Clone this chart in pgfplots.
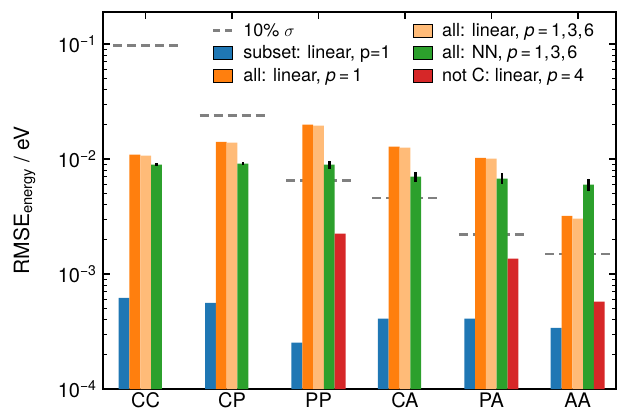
\documentclass[border=0pt]{standalone}
\usepackage{fontspec}
\setmainfont{TeX Gyre Heros}
\usepackage{pgfplots}
\pgfplotsset{compat=1.18}

\definecolor{cblue}{HTML}{1F77B4}
\definecolor{corange}{HTML}{FF7F0E}
\definecolor{clight}{HTML}{FFBB78}
\definecolor{cgreen}{HTML}{2CA02C}
\definecolor{cred}{HTML}{D62728}
\definecolor{cgray}{HTML}{808080}

\pgfplotsset{
  patch legend/.style={legend image code/.code={\fill[##1] (0pt,-6.5pt) rectangle (19pt,6.5pt);}},
  dash legend/.style={legend image code/.code={\draw[##1] (0pt,0pt) -- (19pt,0pt);}},
  sigmaline/.style={cgray, line width=2.5pt, dash pattern=on 9pt off 5pt, forget plot},
  barplot/.style={ybar, bar width=0.125, bar shift=0pt, draw=none, forget plot},
}

\begin{document}
\begin{tikzpicture}
\useasboundingbox (-103pt,-26pt) rectangle (518pt,389pt);
\begin{axis}[
  at={(0pt,0pt)}, anchor=south west,
  scale only axis, width=513pt, height=377pt,
  ymode=log, log origin=infty,
  ymin=1e-4, ymax=0.19,
  xmin=-0.494, xmax=5.443,
  xtick={0,1,2,3,4,5},
  xticklabels={CC,CP,PP,CA,PA,AA},
  ytick={1e-4,1e-3,1e-2,1e-1},
  yticklabels={10\textsuperscript{−4},10\textsuperscript{−3},10\textsuperscript{−2},10\textsuperscript{−1}},
  axis line style={line width=2.2pt},
  tick align=inside,
  major tick length=7.5pt, minor tick length=4pt,
  every major tick/.append style={black, line width=1.6pt},
  every minor tick/.append style={black, line width=1.2pt},
  ticklabel style={font=\fontsize{20}{24}\selectfont},
  yticklabel style={xshift=-3pt},
  ylabel={RMSE\textsubscript{energy} / eV},
  ylabel style={font=\fontsize{21}{25}\selectfont, at={(axis description cs:-0.144,0.5)}, anchor=base, rotate=0},
  legend columns=2,
  legend cell align=left,
  legend style={draw=none, fill=none, inner sep=0pt,
    at={(axis description cs:0.212,0.976)}, anchor=north west,
    font=\fontsize{18}{21}\selectfont,
    row sep=4pt, column sep=8pt,
    /tikz/every even column/.append style={column sep=20pt}},
]

% 10% sigma reference levels
\addplot[sigmaline] coordinates {(-0.376,0.0973) (0.376,0.0973)};
\addplot[sigmaline] coordinates {(0.624,0.0239) (1.376,0.0239)};
\addplot[sigmaline] coordinates {(1.624,0.00648) (2.376,0.00648)};
\addplot[sigmaline] coordinates {(2.624,0.00458) (3.376,0.00458)};
\addplot[sigmaline] coordinates {(3.624,0.0022) (4.376,0.0022)};
\addplot[sigmaline] coordinates {(4.624,0.0015) (5.376,0.0015)};

% subset: linear, p=1
\addplot[barplot, fill=cblue] coordinates {
  (-0.25,6.2e-4) (0.75,5.6e-4) (1.75,2.53e-4) (2.75,4.09e-4) (3.75,4.09e-4) (4.75,3.41e-4)};
% all: linear, p = 1
\addplot[barplot, fill=corange] coordinates {
  (-0.125,0.0109) (0.875,0.0141) (1.875,0.0199) (2.875,0.0128) (3.875,0.01026) (4.875,0.00321)};
% all: linear, p = 1,3,6
\addplot[barplot, fill=clight] coordinates {
  (0,0.0107) (1,0.0139) (2,0.0195) (3,0.01256) (4,0.0101) (5,0.00303)};
% all: NN, p = 1,3,6 (with spread)
\addplot[barplot, fill=cgreen,
  error bars/.cd, y dir=both, y explicit, error mark=none,
  error bar style={black, line width=2.5pt}] coordinates {
  (0.125,0.00892) +- (0,0.00025)
  (1.125,0.0091) +- (0,0.0003)
  (2.125,0.00892) +- (0,0.0007)
  (3.125,0.00702) +- (0,0.0007)
  (4.125,0.00677) +- (0,0.00075)
  (5.125,0.00598) +- (0,0.00075)};
% not C: linear, p = 4
\addplot[barplot, fill=cred] coordinates {
  (2.25,0.00224) (4.25,0.00136) (5.25,5.74e-4)};

% legend entries, row by row
\addlegendimage{dash legend, cgray, line width=2.5pt, dash pattern=on 7pt off 5pt}
\addlegendentry{10\%\ $\sigma$}
\addlegendimage{patch legend, fill=clight}
\addlegendentry{all: linear, \textit{p}\,=\,1,\kern1.5pt3,\kern1.5pt6}
\addlegendimage{patch legend, fill=cblue}
\addlegendentry{subset: linear, p=1}
\addlegendimage{patch legend, fill=cgreen}
\addlegendentry{all: NN, \textit{p}\,=\,1,\kern1.5pt3,\kern1.5pt6}
\addlegendimage{patch legend, fill=corange}
\addlegendentry{all: linear, \textit{p}\,=\,1}
\addlegendimage{patch legend, fill=cred}
\addlegendentry{not C: linear, \textit{p}\,=\,4}
\end{axis}
\end{tikzpicture}
\end{document}
